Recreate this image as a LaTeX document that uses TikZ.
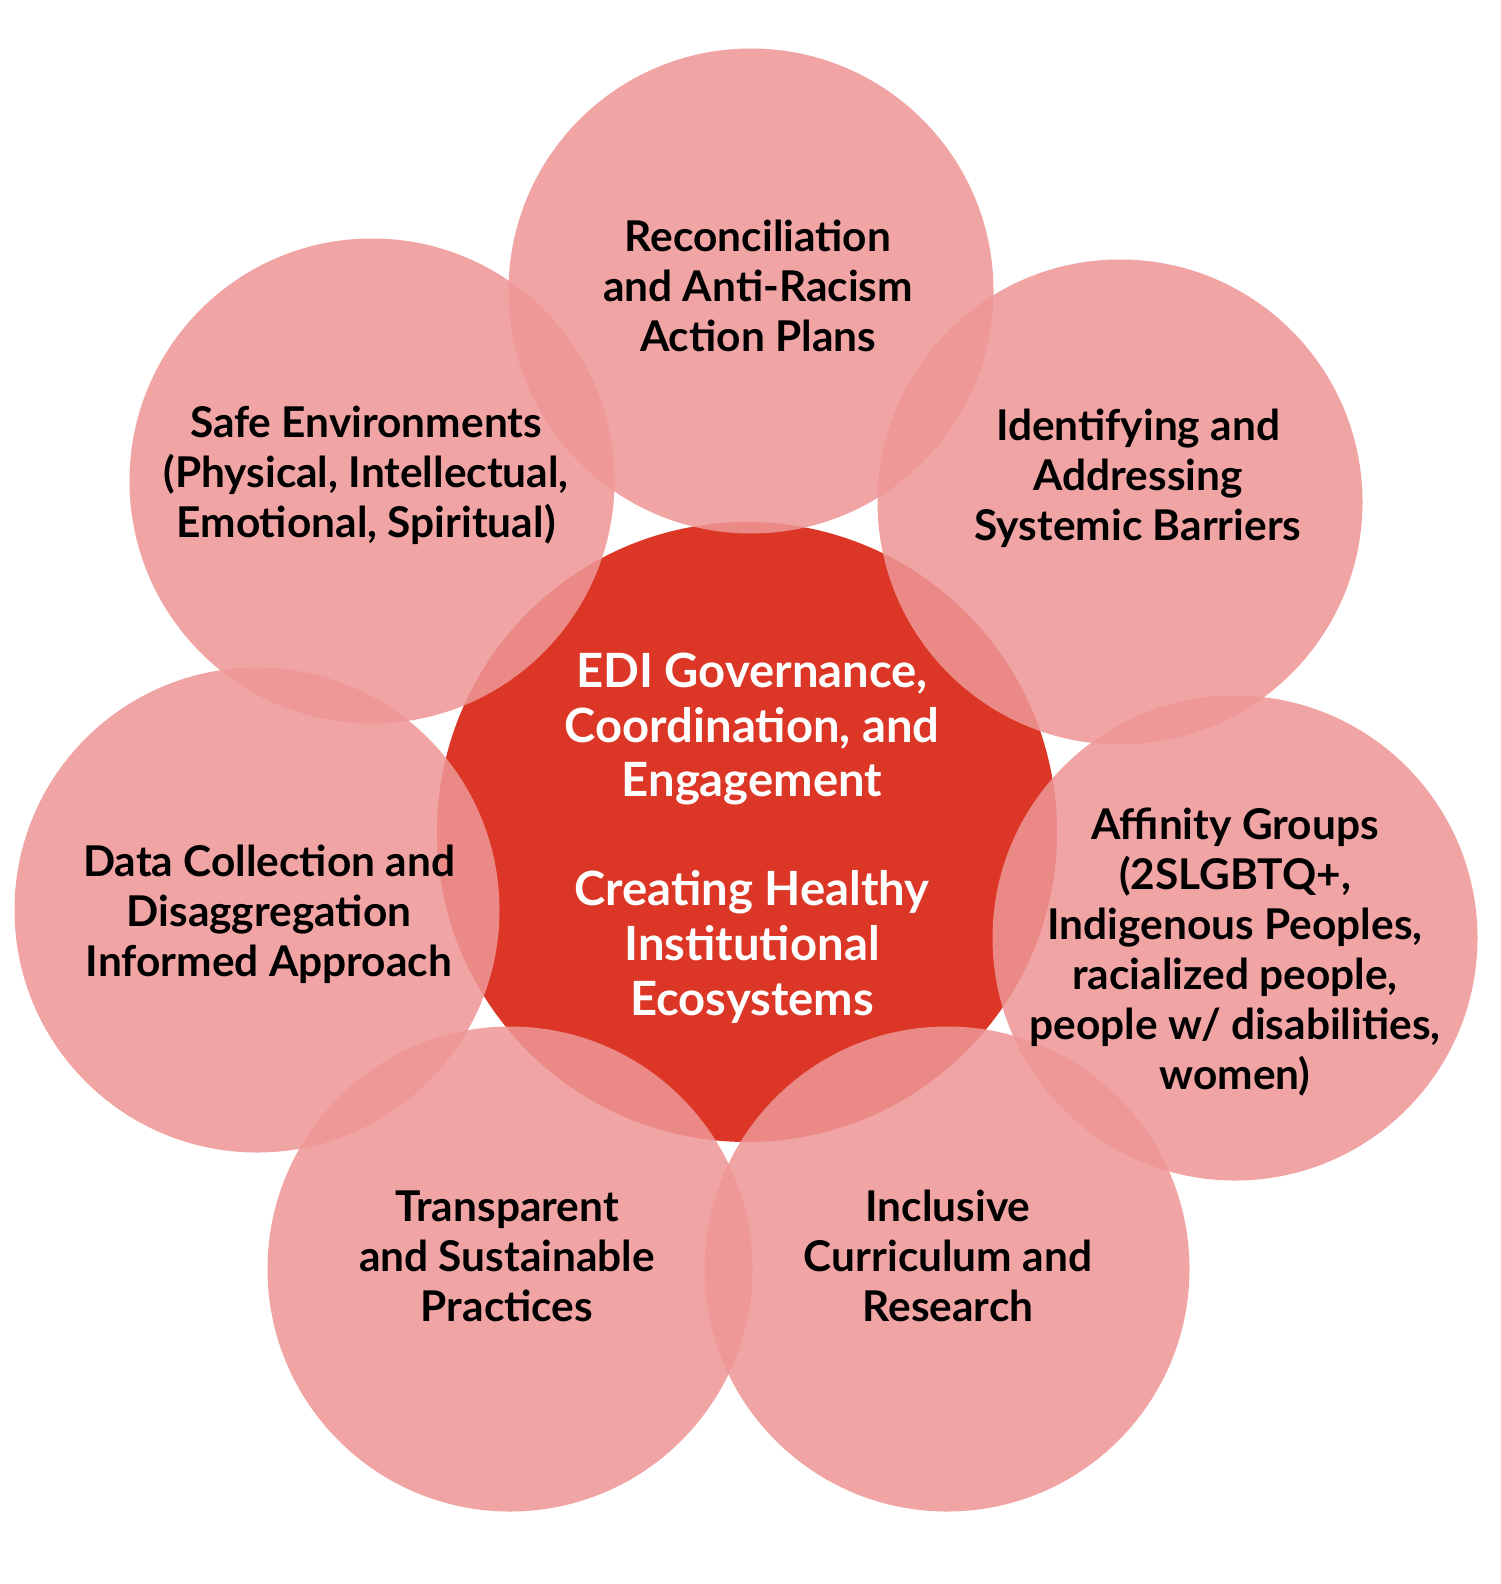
\documentclass[tikz,border=0pt]{standalone}
\usepackage{fontspec}
\setmainfont{Lato}
\usepackage{tikz}

\definecolor{hubred}{RGB}{220,54,38}
\definecolor{petalpink}{RGB}{238,150,150}

\begin{document}
\begin{tikzpicture}[x=0.5pt,y=-0.5pt,
  hub/.style={circle,fill=hubred,inner sep=0pt,minimum size=310pt},
  petal/.style={circle,fill=petalpink,fill opacity=0.87,inner sep=0pt,minimum size=242.5pt},
  caption/.style={align=center,font=\bfseries\fontsize{21.2}{25}\selectfont},
  hubtext/.style={align=center,text=white,font=\bfseries\fontsize{23.6}{27.3}\selectfont}]
  \useasboundingbox (0,0) rectangle (1500,1584);

  % circles
  \node[hub]   (hub)   at (747,832)  {};
  \node[petal] (plans) at (751,291)  {};
  \node[petal] (safe)  at (372,481)  {};
  \node[petal] (barr)  at (1120,502) {};
  \node[petal] (data)  at (257,910)  {};
  \node[petal] (aff)   at (1235,938) {};
  \node[petal] (trans) at (510,1269) {};
  \node[petal] (curr)  at (947,1269) {};

  % texts
  \node[hubtext] (hubt) at (752,838) {EDI Governance,\\Coordination, and\\Engagement\\[27.3pt]Creating Healthy\\Institutional\\Ecosystems};
  \node[caption] (planst) at (758,286)  {Reconciliation\\and Anti-Racism\\Action Plans};
  \node[caption] (safet)  at (366,475)  {Safe Environments\\(Physical, Intellectual,\\Emotional, Spiritual)};
  \node[caption] (barrt)  at (1138,478) {Identifying and\\Addressing\\Systemic Barriers};
  \node[caption] (datat)  at (269,914)  {Data Collection and\\Disaggregation\\Informed Approach};
  \node[caption] (afft)   at (1235,952) {Affinity Groups\\(2SLGBTQ+,\\Indigenous Peoples,\\racialized people,\\people w/ disabilities,\\women)};
  \node[caption] (transt) at (507,1256) {Transparent\\and Sustainable\\Practices};
  \node[caption] (currt)  at (948,1256) {Inclusive\\Curriculum and\\Research};
\end{tikzpicture}
\end{document}
